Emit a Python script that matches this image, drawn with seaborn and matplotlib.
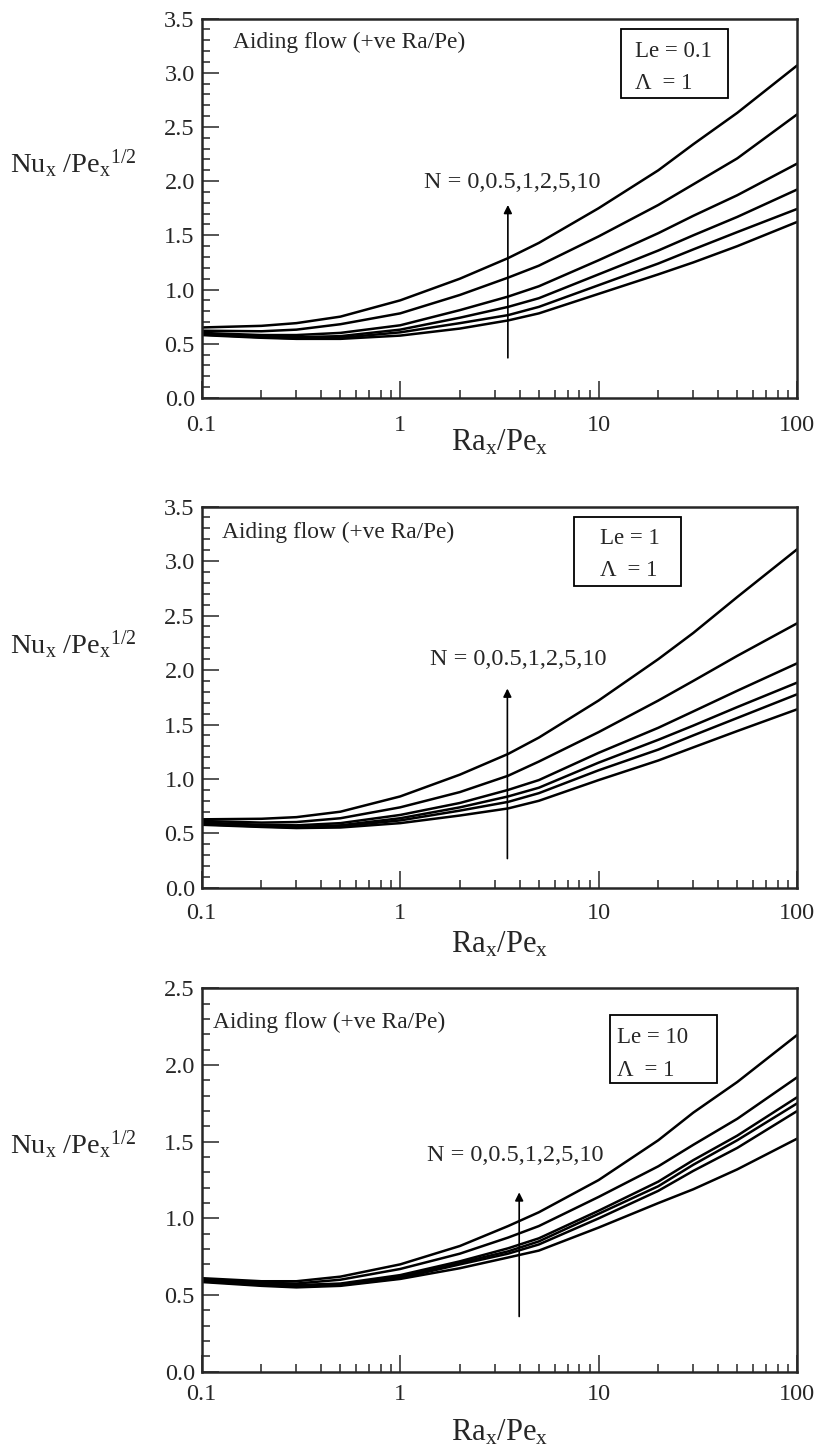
import numpy as np
import pandas as pd
import matplotlib
matplotlib.use("Agg")
import matplotlib.pyplot as plt
import seaborn as sns
from matplotlib.patches import Rectangle
from matplotlib.ticker import (FixedLocator, FixedFormatter, LogLocator,
                               MultipleLocator, FormatStrFormatter, NullFormatter)

# --------------------------
# Data
# --------------------------
ra_pe = [0.1, 0.2, 0.3, 0.5, 1, 2, 3.5, 5, 10, 20, 30, 50, 100]
n_values = [0, 0.5, 1, 2, 5, 10]

# Le = 0.1, rows follow n_values
nu_le01 = [
    [0.58, 0.555, 0.545, 0.545, 0.575, 0.64, 0.715, 0.78, 0.96, 1.14, 1.25, 1.40, 1.623],
    [0.585, 0.56, 0.55, 0.555, 0.605, 0.69, 0.764, 0.84, 1.04, 1.24, 1.37, 1.53, 1.743],
    [0.59, 0.57, 0.56, 0.57, 0.63, 0.74, 0.84, 0.92, 1.14, 1.36, 1.50, 1.67, 1.922],
    [0.60, 0.58, 0.58, 0.60, 0.67, 0.81, 0.935, 1.03, 1.27, 1.52, 1.68, 1.87, 2.161],
    [0.62, 0.615, 0.63, 0.68, 0.78, 0.95, 1.11, 1.22, 1.49, 1.78, 1.97, 2.21, 2.615],
    [0.65, 0.665, 0.69, 0.75, 0.90, 1.10, 1.29, 1.43, 1.75, 2.10, 2.34, 2.63, 3.066],
]

# Le = 1
nu_le1 = [
    [0.58, 0.56, 0.55, 0.555, 0.595, 0.665, 0.73, 0.80, 0.99, 1.17, 1.29, 1.44, 1.639],
    [0.585, 0.565, 0.555, 0.565, 0.62, 0.71, 0.79, 0.87, 1.08, 1.27, 1.40, 1.56, 1.777],
    [0.59, 0.57, 0.56, 0.575, 0.64, 0.74, 0.84, 0.92, 1.15, 1.36, 1.49, 1.66, 1.884],
    [0.60, 0.58, 0.575, 0.595, 0.67, 0.78, 0.90, 0.99, 1.24, 1.47, 1.62, 1.81, 2.061],
    [0.615, 0.60, 0.605, 0.64, 0.74, 0.88, 1.03, 1.16, 1.43, 1.72, 1.90, 2.13, 2.428],
    [0.63, 0.635, 0.65, 0.70, 0.84, 1.04, 1.23, 1.38, 1.72, 2.10, 2.34, 2.67, 3.107],
]

# Le = 10
nu_le10 = [
    [0.585, 0.56, 0.55, 0.56, 0.605, 0.675, 0.745, 0.79, 0.94, 1.10, 1.19, 1.32, 1.52],
    [0.59, 0.565, 0.555, 0.565, 0.61, 0.70, 0.77, 0.83, 1.00, 1.18, 1.31, 1.46, 1.70],
    [0.595, 0.57, 0.56, 0.57, 0.62, 0.71, 0.785, 0.85, 1.03, 1.21, 1.35, 1.51, 1.75],
    [0.60, 0.575, 0.565, 0.575, 0.63, 0.72, 0.805, 0.87, 1.05, 1.24, 1.38, 1.54, 1.79],
    [0.605, 0.58, 0.575, 0.60, 0.67, 0.77, 0.875, 0.95, 1.14, 1.34, 1.48, 1.65, 1.92],
    [0.61, 0.59, 0.59, 0.62, 0.70, 0.82, 0.95, 1.04, 1.25, 1.51, 1.69, 1.89, 2.196],
]

le_labels = ["Le = 0.1", "Le = 1", "Le = 10"]
x_ticks = [0.1, 1, 10, 100]
x_ticklabels = ["0.1", "1", "10", "100"]

# --------------------------
# Style
# --------------------------
sns.set_style("ticks")
plt.rcParams["font.family"] = ["Liberation Serif", "DejaVu Serif"]
plt.rcParams["mathtext.fontset"] = "stix"

fig = plt.figure(figsize=(8.21, 14.46), dpi=100)

# per panel layout: axes rect, y top, text/box/arrow positions (axes fractions)
panels = [
    dict(data=nu_le01, rect=[0.2457, 0.7248, 0.7251, 0.2624], ytop=3.5,
         aiding=(0.053, 0.936), box=(0.704, 0.791, 0.180, 0.182),
         le_txt=(0.728, 0.912, 0.830), ntext=(0.373, 0.569),
         arrow=(3.49, 0.37, 1.78), ylab_y=0.887, xlab_y=-0.119, pad=12),
    dict(data=nu_le1, rect=[0.2457, 0.3859, 0.7251, 0.2638], ytop=3.5,
         aiding=(0.034, 0.933), box=(0.625, 0.792, 0.180, 0.181),
         le_txt=(0.669, 0.917, 0.831), ntext=(0.383, 0.598),
         arrow=(3.47, 0.27, 1.83), ylab_y=0.554, xlab_y=-0.149, pad=11),
    dict(data=nu_le10, rect=[0.2457, 0.0514, 0.7251, 0.2650], ytop=2.5,
         aiding=(0.019, 0.912), box=(0.686, 0.753, 0.180, 0.177),
         le_txt=(0.698, 0.873, 0.785), ntext=(0.379, 0.565),
         arrow=(3.98, 0.36, 1.17), ylab_y=0.208, xlab_y=-0.159, pad=9),
]

for p, le in zip(panels, le_labels):
    ax = fig.add_axes(p["rect"])

    rows = []
    for n, ys in zip(n_values, p["data"]):
        for x, y in zip(ra_pe, ys):
            rows.append({"Ra/Pe": x, "Nu/Pe^0.5": y, "N": str(n)})
    df = pd.DataFrame(rows)

    sns.lineplot(data=df, x="Ra/Pe", y="Nu/Pe^0.5", hue="N",
                 palette=["black"] * len(n_values), legend=False,
                 estimator=None, linewidth=1.8, ax=ax)

    ax.set_xscale("log")
    ax.set_xlim(0.1, 100)
    ax.set_ylim(0, p["ytop"])

    ax.xaxis.set_major_locator(FixedLocator(x_ticks))
    ax.xaxis.set_major_formatter(FixedFormatter(x_ticklabels))
    ax.xaxis.set_minor_locator(LogLocator(base=10, subs=np.arange(2, 10)))
    ax.xaxis.set_minor_formatter(NullFormatter())
    ax.yaxis.set_major_locator(MultipleLocator(0.5))
    ax.yaxis.set_major_formatter(FormatStrFormatter("%.1f"))
    ax.yaxis.set_minor_locator(MultipleLocator(0.1))

    ax.tick_params(which="both", direction="in", top=False, right=False,
                   width=1.1, labelsize=17.5)
    ax.tick_params(which="major", length=12)
    ax.tick_params(which="minor", length=6)
    ax.tick_params(axis="x", which="major", pad=p["pad"])
    ax.tick_params(axis="y", which="major", pad=5)
    for s in ax.spines.values():
        s.set_visible(True)
        s.set_linewidth(1.8)

    ax.set_xlabel(r"$\mathregular{Ra_x/Pe_x}$", fontsize=22, va="center")
    ax.xaxis.set_label_coords(0.5, p["xlab_y"])
    ax.set_ylabel("")
    fig.text(0.012, p["ylab_y"], r"$\mathregular{Nu_x\ /Pe_x{}^{1/2}}$",
             fontsize=20.5, ha="left", va="center")

    ax.text(*p["aiding"], "Aiding flow (+ve Ra/Pe)", transform=ax.transAxes,
            fontsize=16.8, ha="left", va="center")

    bx, by, bw, bh = p["box"]
    ax.add_patch(Rectangle((bx, by), bw, bh, transform=ax.transAxes,
                           facecolor="white", edgecolor="black", lw=1.3, zorder=3))
    tx, ty1, ty2 = p["le_txt"]
    ax.text(tx, ty1, le, transform=ax.transAxes, fontsize=16.5,
            ha="left", va="center", zorder=4)
    ax.text(tx, ty2, "Λ  = 1", transform=ax.transAxes, fontsize=16.5,
            ha="left", va="center", zorder=4)

    ax.text(*p["ntext"], "N = 0,0.5,1,2,5,10", transform=ax.transAxes,
            fontsize=17.5, ha="left", va="center")
    axx, y0, y1 = p["arrow"]
    ax.annotate("", xy=(axx, y1), xytext=(axx, y0),
                arrowprops=dict(arrowstyle="-|>", lw=1.2, color="black",
                                mutation_scale=12, shrinkA=0, shrinkB=0))

fig.savefig("out.png", dpi=100, facecolor="white")
